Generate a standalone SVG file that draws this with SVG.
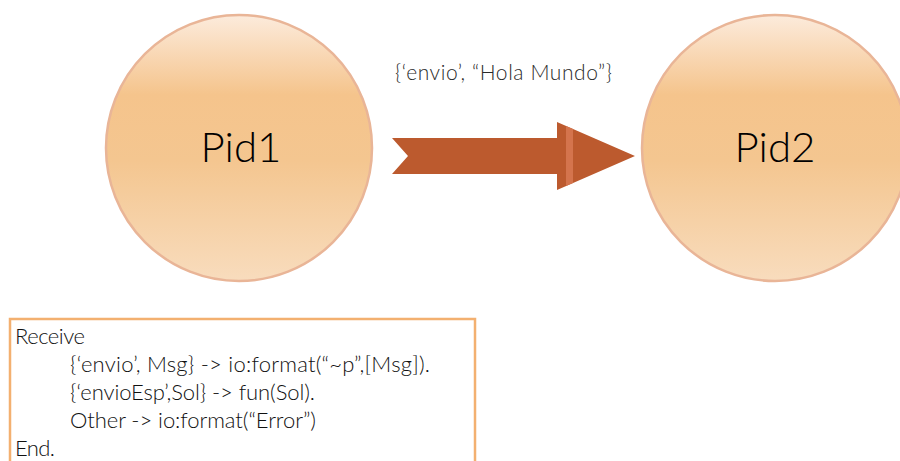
<svg xmlns="http://www.w3.org/2000/svg" width="900" height="461" viewBox="0 0 900 461">
  <style>
    .lbl { font-family: Lato, "Open Sans", "Liberation Sans", sans-serif; font-weight: 300; fill: #000; }
    .pid { font-size: 42px; text-anchor: middle; }
    .msg { font-size: 21px; fill: #2a2a2a; }
    .code { font-size: 22px; fill: #111; }
    .proc { fill: url(#procFill); stroke: #e9b597; stroke-width: 2.5; }
  </style>
  <defs>
    <linearGradient id="procFill" x1="0" y1="0" x2="0" y2="1">
      <stop offset="0" stop-color="#fcebdc"/>
      <stop offset="0.3" stop-color="#f5c48c"/>
      <stop offset="0.55" stop-color="#f4c690"/>
      <stop offset="1" stop-color="#f8dcbd"/>
    </linearGradient>
  </defs>
  <rect width="900" height="461" fill="#fff"/>

  <g id="pid1">
    <circle class="proc" cx="239" cy="148" r="133"/>
    <text class="lbl pid" x="241" y="162">Pid1</text>
  </g>

  <g id="pid2">
    <circle class="proc" cx="775" cy="148" r="133"/>
    <text class="lbl pid" x="775" y="162">Pid2</text>
  </g>

  <g id="connectors">
    <path d="M392,138 L557,138 L557,122 L635,156 L557,190 L557,174 L392,174 L408,156 Z" fill="#bc5a2e"/>
    <path d="M566,126 L573,129 L573,183 L566,186 Z" fill="#d4744d"/>
    <text class="lbl msg" x="395" y="80" textLength="217">{‘envio’, “Hola Mundo”}</text>
  </g>

  <g id="receive-block">
    <rect x="10" y="319" width="465" height="160" fill="#fff" stroke="#f3b070" stroke-width="2.5"/>
    <text class="lbl code" x="15" y="344" textLength="70">Receive</text>
    <text class="lbl code" x="70" y="372" textLength="360">{‘envio’, Msg} -&gt; io:format(“~p”,[Msg]).</text>
    <text class="lbl code" x="70" y="400" textLength="245">{‘envioEsp’,Sol} -&gt; fun(Sol).</text>
    <text class="lbl code" x="70" y="428" textLength="246">Other -&gt; io:format(“Error”)</text>
    <text class="lbl code" x="15" y="456" textLength="40">End.</text>
  </g>
</svg>
